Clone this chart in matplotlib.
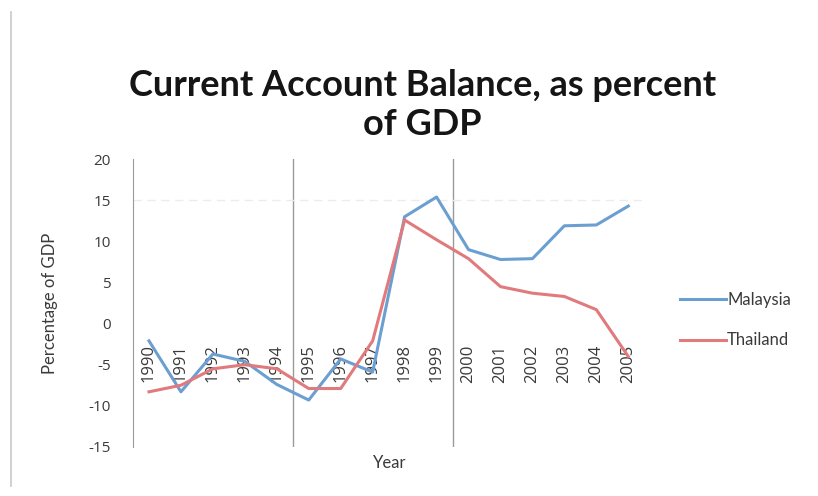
import matplotlib.pyplot as plt
import matplotlib.lines as mlines

years = list(range(1990, 2006))
year_labels = [str(y) for y in years]
malaysia = [-2.1, -8.3, -3.7, -4.6, -7.4, -9.3, -4.3, -5.9, 13.0, 15.4, 9.0, 7.8, 7.9, 11.9, 12.0, 14.3]
thailand = [-8.3, -7.5, -5.5, -5.0, -5.5, -7.9, -7.9, -2.1, 12.6, 10.2, 7.9, 4.5, 3.7, 3.3, 1.7, -4.0]
y_ticks = [20, 15, 10, 5, 0, -5, -10, -15]

blue = '#6b9fd2'
red = '#e07a7c'
txt = '#3a3a3a'

plt.rcParams['font.family'] = ['Lato', 'DejaVu Sans']

fig = plt.figure(figsize=(8.18, 4.96), dpi=100)
ax = fig.add_axes([0.1626, 0.099, 0.625, 0.58])

# category axis sits at zero with its line hidden (set before ticks: it resets them)
ax.spines['bottom'].set_position(('data', 0))
ax.spines['bottom'].set_visible(False)
for s in ['top', 'right']:
    ax.spines[s].set_visible(False)
ax.spines['left'].set_color('#9a9a9a')

# category boundaries every five years, as in the sheet's gridlines
for xb in [1994.5, 1999.5]:
    ax.axvline(xb, color='#9a9a9a', lw=1.0, zorder=1)
ax.axhline(15, color='#ececec', lw=1.0, ls=(0, (6, 4)), zorder=1)

ax.plot(years, malaysia, color=blue, lw=2.2, label='Malaysia', zorder=3)
ax.plot(years, thailand, color=red, lw=2.2, label='Thailand', zorder=3)

ax.set_xlim(1989.5, 2005.5)
ax.set_ylim(-15, 20)
ax.set_yticks(y_ticks)
ax.set_yticklabels([str(v) for v in y_ticks], fontsize=11, color=txt,
                   family=['Open Sans', 'DejaVu Sans'])
ax.set_xticks(years)
ax.set_xticklabels(year_labels, rotation=90, fontsize=12, color=txt,
                   family=['Open Sans', 'DejaVu Sans'])
ax.tick_params(axis='x', length=0, pad=15)
ax.tick_params(axis='y', length=0, pad=16)

ax.set_ylabel('Percentage of GDP', fontsize=12, color=txt, labelpad=22)
fig.text(0.477, 0.066, 'Year', fontsize=12, color=txt, ha='center', va='center')

fig.text(0.516, 0.788, 'Current Account Balance, as percent\nof GDP',
         fontsize=26, fontweight='bold', color='#151515', ha='center', va='center',
         linespacing=1.22)

ax.legend(loc='center left', bbox_to_anchor=(1.04, 0.44), frameon=False,
          fontsize=12, handlelength=2.8, handletextpad=0.05, labelspacing=1.45,
          labelcolor=txt)

# page edge line on the left
fig.add_artist(mlines.Line2D([0.0135, 0.0135], [0.02, 0.975], color='#c8c8c8', lw=1.2))

fig.savefig('out.png', dpi=100)
